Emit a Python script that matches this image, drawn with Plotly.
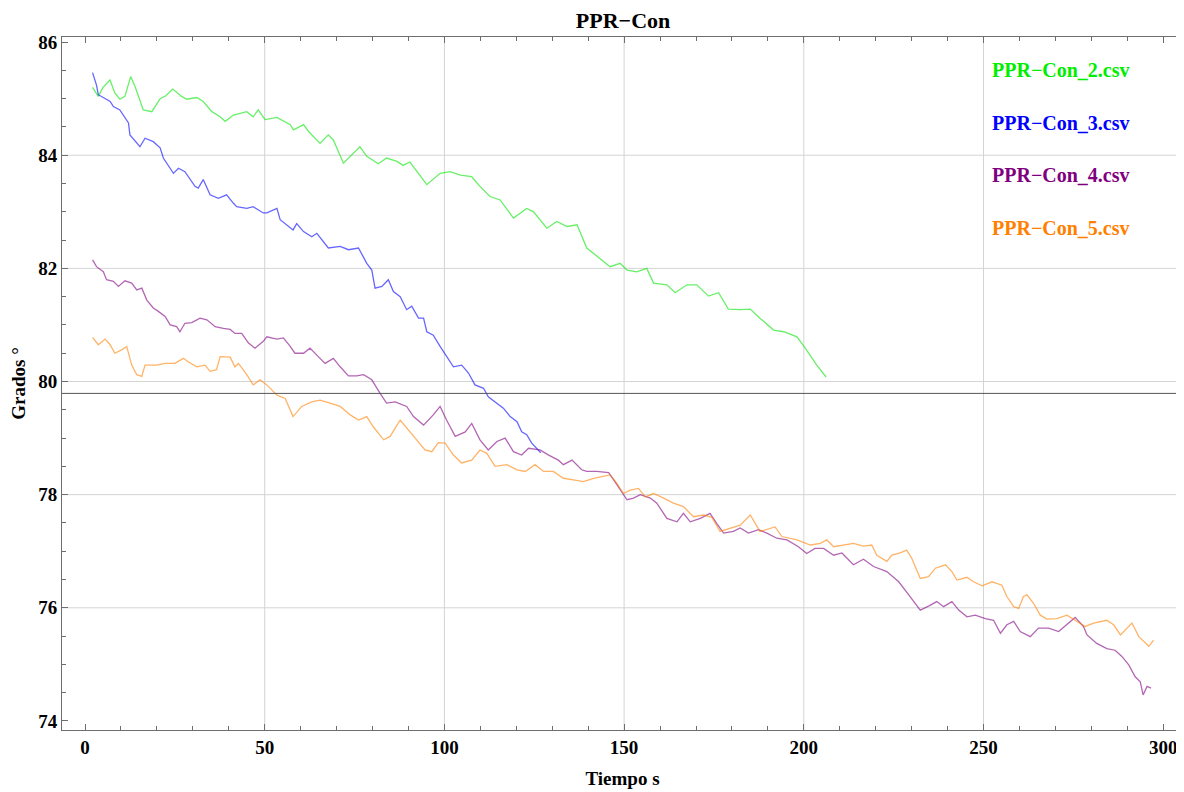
import plotly.graph_objects as go

# --- data ------------------------------------------------------------------
con2_t = [2.1, 3.7, 5.0, 6.96, 8.3, 9.7, 11.1, 12.7, 14.0, 16.2, 18.6, 20.9, 22.5, 24.4,
          26.9, 28.3, 31.1, 32.9, 35.3, 37.6, 39.0, 41.3, 45.0, 46.8, 48.2, 50.1, 53.4,
          57.1, 58.0, 60.8, 62.2, 65.4, 67.7, 69.1, 71.9, 74.7, 76.5, 78.4, 81.6, 83.9,
          86.8, 88.5, 90.4, 92.5, 95.1, 98.8, 101.6, 104.4, 107.6, 109.9, 112.7, 115.5,
          119.2, 122.9, 124.8, 128.5, 131.3, 134.1, 136.9, 139.6, 143.3, 146.1, 148.9,
          150.8, 153.5, 156.3, 158.2, 161.9, 164.2, 167.5, 170.2, 173.5, 176.3, 179.0,
          182.3, 185.1, 187.8, 191.6, 194.4, 198.1, 200.4, 203.6, 206.2]
con2_deg = [85.20, 85.04, 85.20, 85.33, 85.10, 84.99, 85.04, 85.39, 85.20, 84.80, 84.77,
            85.00, 85.05, 85.17, 85.04, 84.99, 85.02, 84.95, 84.77, 84.68, 84.60, 84.71,
            84.77, 84.68, 84.80, 84.63, 84.67, 84.54, 84.45, 84.54, 84.42, 84.21, 84.36,
            84.27, 83.86, 84.04, 84.15, 83.98, 83.85, 83.95, 83.89, 83.82, 83.88, 83.70,
            83.48, 83.68, 83.71, 83.65, 83.62, 83.45, 83.27, 83.21, 82.89, 83.06, 83.00,
            82.71, 82.83, 82.74, 82.77, 82.36, 82.18, 82.03, 82.09, 81.97, 81.94, 82.00,
            81.74, 81.71, 81.57, 81.71, 81.71, 81.51, 81.57, 81.28, 81.27, 81.28, 81.12,
            80.91, 80.88, 80.79, 80.59, 80.29, 80.08]

con3_t = [2.1, 3.2, 3.7, 7.0, 7.9, 9.7, 12.1, 12.5, 15.3, 16.7, 19.0, 20.9, 21.8, 24.6,
          26.0, 27.8, 30.6, 31.5, 32.9, 34.8, 37.1, 39.4, 41.3, 42.2, 45.0, 46.8, 49.6,
          50.6, 53.4, 54.3, 57.9, 58.9, 60.8, 63.1, 64.5, 67.7, 71.0, 73.3, 76.1, 78.4,
          79.8, 80.7, 82.6, 84.4, 85.8, 87.7, 89.5, 90.9, 92.8, 94.2, 95.1, 96.9, 98.8,
          100.6, 102.5, 104.8, 106.7, 108.5, 110.9, 112.2, 114.6, 116.4, 118.3, 120.2,
          121.5, 122.9, 124.3, 125.7, 126.8]
con3_deg = [85.46, 85.24, 85.07, 84.95, 84.86, 84.80, 84.57, 84.36, 84.15, 84.30, 84.24,
            84.13, 83.95, 83.68, 83.77, 83.71, 83.45, 83.42, 83.57, 83.30, 83.24, 83.30,
            83.15, 83.09, 83.06, 83.09, 82.98, 82.98, 83.06, 82.86, 82.68, 82.79, 82.65,
            82.56, 82.62, 82.36, 82.39, 82.33, 82.36, 82.09, 81.97, 81.65, 81.68, 81.80,
            81.59, 81.50, 81.27, 81.33, 81.12, 81.12, 80.88, 80.82, 80.62, 80.44, 80.26,
            80.29, 80.15, 79.94, 79.88, 79.73, 79.62, 79.53, 79.38, 79.29, 79.11, 79.06,
            78.91, 78.82, 78.74]

con4_t = [2.1, 3.2, 5.1, 6.0, 7.9, 9.3, 11.1, 13.0, 14.4, 15.8, 17.2, 19.0, 20.4, 22.3,
          23.7, 25.5, 26.4, 27.8, 29.7, 32.0, 33.9, 36.2, 38.5, 40.4, 41.7, 43.6, 45.5,
          47.3, 49.6, 50.6, 53.4, 55.2, 57.1, 58.4, 60.8, 62.6, 64.9, 66.8, 69.1, 71.0,
          73.3, 75.6, 77.5, 79.8, 82.1, 83.9, 86.3, 89.5, 91.4, 94.2, 96.9, 98.8, 100.6,
          103.0, 105.8, 107.6, 109.9, 112.2, 114.6, 116.9, 119.2, 121.5, 123.4, 126.6,
          129.0, 131.7, 133.1, 135.5, 138.2, 139.6, 142.4, 145.7, 147.1, 148.9, 150.8,
          152.6, 154.5, 157.3, 159.1, 161.9, 164.7, 166.5, 168.4, 171.2, 173.9, 175.8,
          177.7, 180.4, 182.3, 184.6, 187.4, 189.7, 192.5, 195.3, 198.5, 200.8, 203.1,
          205.5, 208.3, 210.6, 213.8, 216.6, 219.4, 223.1, 226.4, 229.2, 232.4, 234.7,
          237.0, 238.9, 241.2, 243.1, 245.4, 247.7, 250.5, 252.8, 254.7, 256.5, 258.4,
          260.2, 263.0, 265.3, 268.1, 270.9, 273.2, 275.5, 277.8, 278.8, 281.5, 284.3,
          286.6, 288.5, 290.4, 292.2, 293.6, 294.4, 295.5, 296.6]
con4_deg = [82.15, 82.03, 81.94, 81.80, 81.77, 81.68, 81.78, 81.74, 81.62, 81.65, 81.44,
            81.30, 81.24, 81.15, 81.00, 80.97, 80.88, 81.03, 81.04, 81.12, 81.09, 80.97,
            80.94, 80.92, 80.85, 80.85, 80.68, 80.59, 80.71, 80.79, 80.75, 80.77, 80.62,
            80.50, 80.50, 80.59, 80.44, 80.32, 80.41, 80.26, 80.10, 80.10, 80.12, 80.03,
            79.79, 79.62, 79.64, 79.56, 79.38, 79.23, 79.41, 79.56, 79.32, 79.03, 79.11,
            79.26, 78.97, 78.79, 78.94, 79.00, 78.76, 78.70, 78.82, 78.79, 78.70, 78.61,
            78.53, 78.61, 78.44, 78.41, 78.41, 78.39, 78.26, 78.08, 77.91, 77.94, 78.00,
            77.94, 77.85, 77.58, 77.52, 77.67, 77.52, 77.58, 77.67, 77.49, 77.32, 77.35,
            77.41, 77.32, 77.38, 77.32, 77.23, 77.20, 77.08, 76.96, 77.05, 77.05, 76.93,
            76.97, 76.76, 76.86, 76.73, 76.64, 76.46, 76.23, 75.96, 76.03, 76.11, 76.02,
            76.11, 75.96, 75.84, 75.87, 75.81, 75.78, 75.55, 75.70, 75.76, 75.58, 75.49,
            75.64, 75.64, 75.58, 75.70, 75.83, 75.67, 75.52, 75.37, 75.28, 75.25, 75.14,
            74.99, 74.78, 74.69, 74.46, 74.61, 74.58]

con5_t = [2.1, 3.7, 5.6, 7.0, 8.3, 10.2, 11.6, 13.0, 14.4, 15.8, 16.7, 19.9, 22.3, 25.0,
          27.4, 28.7, 31.1, 33.4, 34.8, 36.6, 37.6, 40.4, 41.7, 42.7, 45.0, 46.8, 48.7,
          50.6, 53.4, 55.7, 57.9, 60.3, 63.1, 65.4, 68.2, 71.0, 73.8, 76.1, 78.4, 80.2,
          83.1, 84.9, 87.7, 90.0, 92.3, 94.6, 96.5, 98.3, 100.2, 102.5, 104.8, 107.6,
          109.9, 111.8, 114.1, 117.4, 120.2, 122.5, 125.2, 127.6, 130.3, 133.1, 135.9,
          138.7, 141.5, 144.3, 146.1, 148.0, 149.8, 151.7, 154.0, 155.9, 158.2, 161.0,
          163.7, 166.5, 169.3, 172.1, 174.4, 176.7, 179.5, 182.3, 185.1, 187.8, 192.0,
          193.9, 198.1, 201.8, 204.6, 206.4, 208.3, 211.5, 213.8, 216.6, 218.9, 220.3,
          223.1, 224.5, 226.8, 228.6, 230.0, 232.4, 234.7, 236.6, 239.4, 241.2, 242.6,
          245.4, 247.2, 249.6, 252.4, 255.1, 256.5, 258.4, 259.8, 261.1, 262.1, 263.9,
          265.8, 267.6, 270.4, 273.2, 276.0, 278.3, 280.6, 284.3, 286.2, 288.1, 291.3,
          293.2, 296.0, 297.3]
con5_deg = [80.78, 80.65, 80.75, 80.65, 80.50, 80.56, 80.62, 80.29, 80.12, 80.09, 80.29,
            80.29, 80.32, 80.32, 80.41, 80.35, 80.26, 80.29, 80.18, 80.21, 80.44, 80.43,
            80.26, 80.32, 80.12, 79.94, 80.03, 79.94, 79.76, 79.70, 79.38, 79.56, 79.64,
            79.67, 79.62, 79.56, 79.41, 79.32, 79.38, 79.20, 78.97, 79.03, 79.32, 79.14,
            78.97, 78.79, 78.76, 78.92, 78.91, 78.70, 78.56, 78.61, 78.79, 78.73, 78.50,
            78.53, 78.44, 78.41, 78.53, 78.41, 78.41, 78.29, 78.26, 78.23, 78.29, 78.32,
            78.35, 78.20, 78.02, 78.08, 78.11, 77.96, 78.02, 77.94, 77.85, 77.79, 77.61,
            77.64, 77.60, 77.35, 77.41, 77.46, 77.64, 77.35, 77.43, 77.26, 77.20, 77.11,
            77.14, 77.20, 77.08, 77.11, 77.14, 77.09, 77.11, 76.93, 76.82, 76.93, 76.97,
            77.02, 76.88, 76.52, 76.55, 76.70, 76.76, 76.64, 76.49, 76.54, 76.46, 76.39,
            76.46, 76.40, 76.20, 76.02, 75.99, 76.20, 76.23, 76.08, 75.87, 75.80, 75.81,
            75.87, 75.76, 75.67, 75.73, 75.78, 75.70, 75.52, 75.73, 75.49, 75.32, 75.43]

series_names = ["PPR−Con_2.csv", "PPR−Con_3.csv", "PPR−Con_4.csv", "PPR−Con_5.csv"]
line_colors = ["rgba(0,230,0,0.6)", "rgba(0,0,255,0.6)", "rgba(128,0,128,0.6)",
               "rgba(255,128,0,0.6)"]
label_colors = ["#00ee00", "#0000ff", "#800080", "#ff8000"]

reference_deg = 79.79
x_grid = [50, 100, 150, 200, 250]
y_grid = [76, 78, 80, 82, 84]

FONT = "Liberation Serif"

fig = go.Figure()
series = [(con2_t, con2_deg), (con3_t, con3_deg), (con4_t, con4_deg), (con5_t, con5_deg)]
for (t, deg), name, color in zip(series, series_names, line_colors):
    fig.add_trace(
        go.Scatter(x=t, y=deg, mode="lines", name=name, line={"color": color, "width": 1.3})
    )

shapes = []
for gx in x_grid:
    shapes.append({"type": "line", "xref": "x", "yref": "paper", "x0": gx, "x1": gx,
                   "y0": 0, "y1": 1, "line": {"color": "#d4d4d4", "width": 1}, "layer": "below"})
for gy in y_grid:
    shapes.append({"type": "line", "xref": "paper", "yref": "y", "x0": 0, "x1": 1,
                   "y0": gy, "y1": gy, "line": {"color": "#d4d4d4", "width": 1}, "layer": "below"})
shapes.append({"type": "line", "xref": "paper", "yref": "y", "x0": 0, "x1": 1,
               "y0": reference_deg, "y1": reference_deg,
               "line": {"color": "#555555", "width": 1}})

annotations = []
for i, (name, color) in enumerate(zip(series_names, label_colors)):
    annotations.append({"text": "<b>%s</b>" % name, "xref": "paper", "yref": "paper",
                        "x": 0.828, "y": 0.952 - i * 0.0757, "xanchor": "left",
                        "yanchor": "middle", "showarrow": False,
                        "font": {"family": FONT, "size": 20, "color": color}})

axis_common = {
    "showgrid": False, "zeroline": False, "showline": True, "linecolor": "#6e6e6e",
    "linewidth": 1, "mirror": "allticks", "ticks": "inside", "ticklen": 6,
    "tickcolor": "#6e6e6e", "tickfont": {"family": FONT, "size": 19, "color": "black"},
}

# the page adds an 8px body margin, so the figure is sized to fit the window after it
fig.update_layout(
    width=1176, height=784,
    paper_bgcolor="white", plot_bgcolor="white",
    margin={"l": 54, "r": 1, "t": 29, "b": 62},
    showlegend=False,
    title={"text": "<b>PPR−Con</b>", "x": 0.523, "xanchor": "center", "y": 0.984,
           "yanchor": "middle", "font": {"family": FONT, "size": 22, "color": "black"}},
    xaxis={**axis_common, "range": [-6.4, 305.5], "tickvals": [0, 50, 100, 150, 200, 250, 300],
           "ticktext": ["<b>%d</b>" % v for v in [0, 50, 100, 150, 200, 250, 300]],
           "minor": {"dtick": 10, "tick0": 0, "ticks": "inside", "ticklen": 4,
                     "tickcolor": "#6e6e6e"},
           "title": {"text": "<b>Tiempo s</b>", "standoff": 14,
                     "font": {"family": FONT, "size": 19, "color": "black"}}},
    yaxis={**axis_common, "range": [73.84, 86.09], "tickvals": [74, 76, 78, 80, 82, 84, 86],
           "ticktext": ["<b>%d</b>" % v for v in [74, 76, 78, 80, 82, 84, 86]],
           "minor": {"dtick": 0.5, "tick0": 74, "ticks": "inside", "ticklen": 4,
                     "tickcolor": "#6e6e6e"},
           "title": {"text": "<b>Grados °</b>", "standoff": 8,
                     "font": {"family": FONT, "size": 19, "color": "black"}}},
    shapes=shapes,
    annotations=annotations,
)

fig.write_html("out.html")
